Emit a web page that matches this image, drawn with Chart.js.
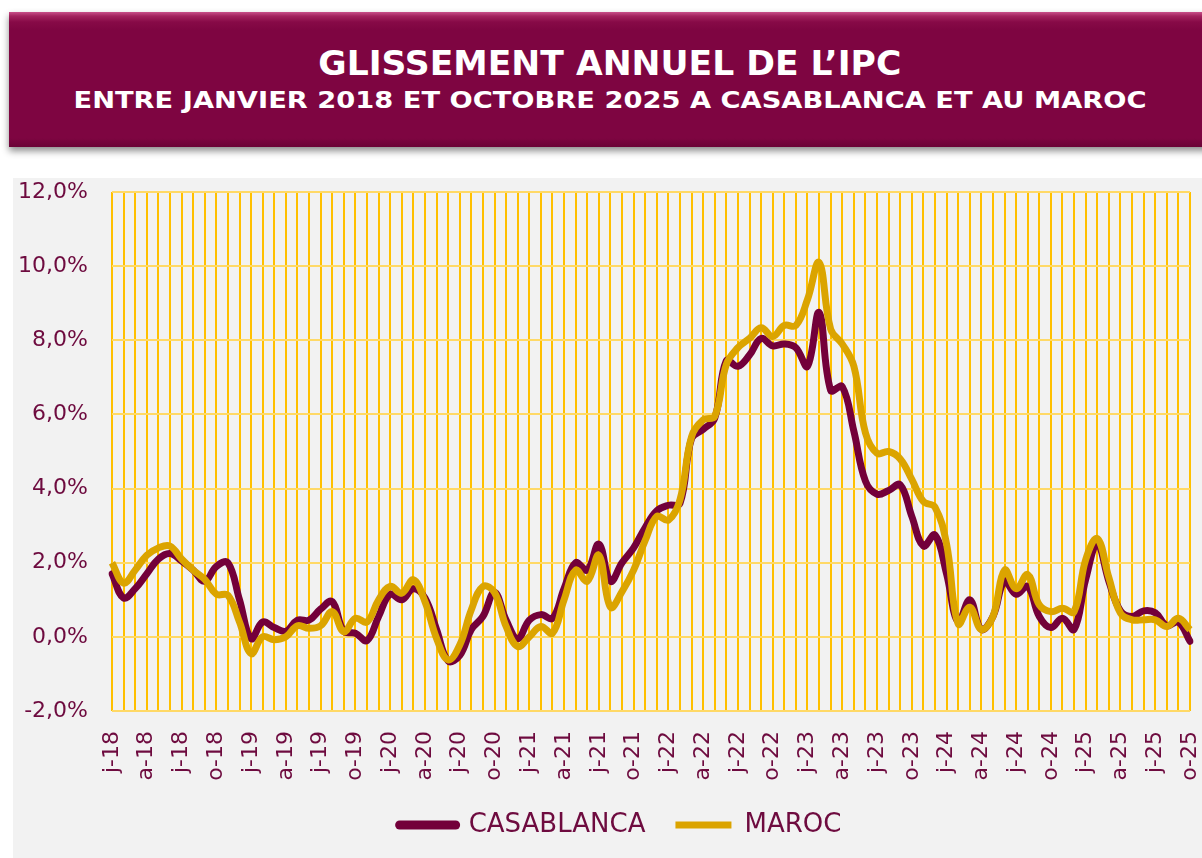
<!DOCTYPE html>
<html>
<head>
<meta charset="utf-8">
<script src="https://cdn.jsdelivr.net/npm/chart.js@4.4.1/dist/chart.umd.min.js"></script>
<style>
html,body{margin:0;padding:0;background:#ffffff;width:1202px;height:858px;overflow:hidden;font-family:"DejaVu Sans",sans-serif;}
#banner{position:absolute;left:9px;top:12px;width:1205px;height:135px;
  background:linear-gradient(to bottom,#c8508a 0px,#a3245f 4px,#870a47 10px,#7e0541 18px,#7e0541 126px,#6a0336 135px);
  box-shadow:0 4px 7px rgba(0,0,0,0.45);}
.t{position:absolute;left:0;width:1220px;text-align:center;color:#ffffff;font-weight:bold;white-space:nowrap;line-height:1;z-index:2;}
.t span{display:inline-block;transform-origin:50% 50%;}
#t1{top:46px;font-size:34px;}
#t2{top:89px;font-size:23.5px;}
#chartbox{position:absolute;left:13px;top:178px;width:1189px;height:680px;background:#f2f2f2;}
canvas{display:block;}
</style>
</head>
<body>
<div id="banner"></div>
<div class="t" id="t1"><span data-w="583">GLISSEMENT ANNUEL DE L’IPC</span></div>
<div class="t" id="t2"><span data-w="1073">ENTRE JANVIER 2018 ET OCTOBRE 2025 A CASABLANCA ET AU MAROC</span></div>
<div id="chartbox"><canvas id="c" width="1189" height="680"></canvas></div>
<script>
// Categories: monthly, January 2018 to October 2025
const months = [
  "j-18","f-18","m-18","a-18","m-18","j-18","j-18","a-18","s-18","o-18","n-18","d-18",
  "j-19","f-19","m-19","a-19","m-19","j-19","j-19","a-19","s-19","o-19","n-19","d-19",
  "j-20","f-20","m-20","a-20","m-20","j-20","j-20","a-20","s-20","o-20","n-20","d-20",
  "j-21","f-21","m-21","a-21","m-21","j-21","j-21","a-21","s-21","o-21","n-21","d-21",
  "j-22","f-22","m-22","a-22","m-22","j-22","j-22","a-22","s-22","o-22","n-22","d-22",
  "j-23","f-23","m-23","a-23","m-23","j-23","j-23","a-23","s-23","o-23","n-23","d-23",
  "j-24","f-24","m-24","a-24","m-24","j-24","j-24","a-24","s-24","o-24","n-24","d-24",
  "j-25","f-25","m-25","a-25","m-25","j-25","j-25","a-25","s-25","o-25"
];

// Annual CPI change (%) - Casablanca
const casablanca = [
  1.7, 1.05, 1.3, 1.7, 2.1, 2.25, 2.05, 1.8, 1.5, 1.9, 2.0, 1.0,
  -0.05, 0.4, 0.25, 0.15, 0.45, 0.45, 0.75, 0.95, 0.15, 0.1, -0.1, 0.55,
  1.15, 1.0, 1.3, 1.05, 0.2, -0.65, -0.5, 0.2, 0.55, 1.2, 0.45, -0.05,
  0.45, 0.6, 0.5, 1.3, 2.0, 1.8, 2.5, 1.5, 2.0, 2.4, 2.95, 3.4,
  3.55, 3.6, 5.35, 5.6, 5.9, 7.45, 7.3, 7.6, 8.05, 7.85, 7.9, 7.8,
  7.3, 8.75, 6.65, 6.75, 5.55, 4.2, 3.85, 3.95, 4.1, 3.25, 2.45, 2.75,
  1.7, 0.4, 1.0, 0.2, 0.55, 1.5, 1.15, 1.36, 0.55, 0.25, 0.5, 0.2,
  1.55, 2.5, 1.5, 0.7, 0.55, 0.7, 0.65, 0.3, 0.4, -0.12
];

// Annual CPI change (%) - Maroc
const maroc = [
  2.0, 1.45, 1.8, 2.2, 2.4, 2.45, 2.1, 1.8, 1.55, 1.15, 1.12, 0.4,
  -0.45, 0.0, -0.08, 0.0, 0.3, 0.23, 0.3, 0.68, 0.14, 0.5, 0.4, 1.0,
  1.36, 1.18, 1.54, 0.95, -0.04, -0.62, -0.22, 0.73, 1.36, 1.2, 0.28, -0.26,
  0.0, 0.28, 0.1, 1.0, 1.8, 1.5, 2.2, 0.8, 1.22, 1.8, 2.6, 3.25,
  3.15, 3.7, 5.4, 5.85, 5.95, 7.35, 7.8, 8.05, 8.34, 8.1, 8.4, 8.4,
  9.1, 10.1, 8.3, 7.9, 7.3, 5.5, 4.95, 5.0, 4.8, 4.25, 3.65, 3.5,
  2.5, 0.35, 0.8, 0.2, 0.55, 1.8, 1.3, 1.68, 0.86, 0.68, 0.77, 0.68,
  2.08, 2.65, 1.6, 0.64, 0.46, 0.46, 0.46, 0.28, 0.5, 0.19
];

const seriesNames = ["CASABLANCA", "MAROC"];
const yMin = -2, yMax = 12, yStep = 2;

const TEXT = "#6e0b3f";
const DARK = "#73003a";
const GOLD = "#dba400";

// fit banner text widths
document.querySelectorAll('.t span').forEach(s => {
  const w = s.getBoundingClientRect().width;
  const target = parseFloat(s.dataset.w);
  s.style.transform = 'scaleX(' + (target / w) + ')';
});

const legendShift = {
  id: 'legendShift',
  afterLayout(chart) {
    const l = chart.legend;
    if (l) { l.left += 19; l.right += 19; }
  }
};

new Chart(document.getElementById('c'), {
  type: 'line',
  data: {
    labels: months,
    datasets: [
      { label: seriesNames[0], data: casablanca, borderColor: DARK, backgroundColor: DARK,
        borderWidth: 7, pointRadius: 0, pointHoverRadius: 0, tension: 0.4,
        borderCapStyle: 'round', borderJoinStyle: 'round', order: 1 },
      { label: seriesNames[1], data: maroc, borderColor: GOLD, backgroundColor: GOLD,
        borderWidth: 7, pointRadius: 0, pointHoverRadius: 0, tension: 0.4,
        borderCapStyle: 'butt', borderJoinStyle: 'round', order: 0 }
    ]
  },
  plugins: [legendShift],
  options: {
    responsive: false,
    animation: false,
    devicePixelRatio: 1,
    layout: { padding: { top: 14, right: 12, bottom: 10, left: 0 } },
    plugins: {
      tooltip: { enabled: false },
      legend: {
        position: 'bottom',
        labels: {
          usePointStyle: true,
          pointStyleWidth: 56,
          padding: 30,
          color: TEXT,
          font: { family: 'DejaVu Sans', size: 26 },
          generateLabels: (chart) => chart.data.datasets.map((ds, i) => ({
            text: ds.label,
            fillStyle: ds.borderColor,
            strokeStyle: ds.borderColor,
            lineWidth: i === 0 ? 9 : 7,
            lineCap: ds.borderCapStyle,
            pointStyle: 'line',
            fontColor: TEXT,
            hidden: false,
            datasetIndex: i
          }))
        }
      }
    },
    scales: {
      x: {
        grid: { color: '#ffc000', lineWidth: 2, drawTicks: false },
        border: { display: false },
        ticks: {
          autoSkip: false, minRotation: 90, maxRotation: 90, padding: 20,
          color: TEXT, font: { family: 'DejaVu Sans', size: 22 },
          callback: function(v, i) { return i % 3 === 0 ? months[i] : ''; }
        },
        afterFit: (s) => { s.height = 71; s.paddingLeft = 0; s.paddingRight = 0; }
      },
      y: {
        min: yMin, max: yMax,
        grid: { color: '#ffd966', lineWidth: 2, drawTicks: false },
        border: { display: false },
        ticks: {
          stepSize: yStep, padding: 24, color: TEXT,
          font: { family: 'DejaVu Sans', size: 22 },
          callback: (v) => v.toFixed(1).replace('.', ',') + '%'
        },
        afterFit: (s) => { s.width = 99; s.paddingTop = 0; s.paddingBottom = 0; }
      }
    }
  }
});
</script>
</body>
</html>
